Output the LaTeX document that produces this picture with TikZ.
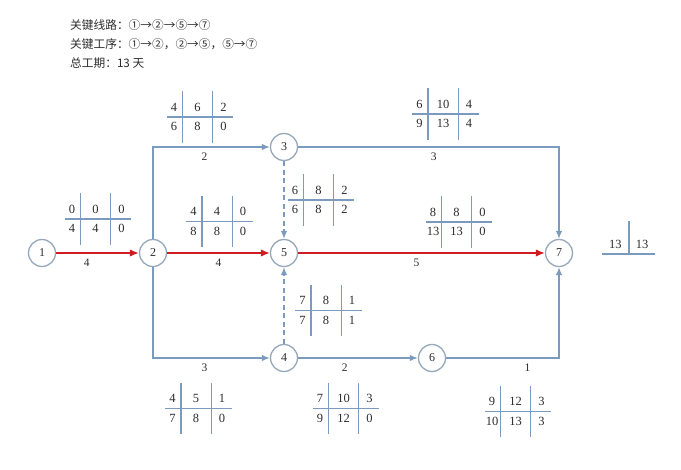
\documentclass[tikz,border=0pt]{standalone}
\usepackage{fontspec}
\setmainfont{Liberation Serif}
\newfontfamily\cjk{Noto Sans CJK SC}
\usepackage{array}
\usepackage{colortbl}
\usetikzlibrary{arrows.meta}
\definecolor{linkblue}{RGB}{122,154,190}
\definecolor{ringgray}{RGB}{150,168,186}
\definecolor{critred}{RGB}{206,28,34}
\definecolor{inkgray}{RGB}{45,45,45}
\arrayrulecolor{linkblue}
\setlength\arrayrulewidth{1.4pt}
\setlength\tabcolsep{4pt}
\newcommand{\wbox}[6]{%
	\begin{tabular}{w{c}{7pt}|w{c}{21pt}|w{c}{12pt}}
		\rule[-5pt]{0pt}{25pt}#1 & #2 & #3\\ \hline
		\rule[-12pt]{0pt}{25pt}#4 & #5 & #6
	\end{tabular}}
\begin{document}
\begin{tikzpicture}[x=1pt, y=-1pt,
		event/.style={circle, draw=ringgray, line width=1.3pt, fill=white, minimum size=27pt, inner sep=0pt, text=inkgray, font=\fontsize{12}{13}\selectfont},
		plain/.style={draw=linkblue, line width=1.4pt, -{Latex[length=8pt,width=6.5pt]}},
		crit/.style={draw=critred, line width=1.6pt, -{Latex[length=9pt,width=7.5pt]}},
		dummy/.style={plain, dash pattern=on 5pt off 3.5pt},
		elab/.style={below=5pt, inner sep=0pt, text=inkgray, font=\fontsize{11.5}{12}\selectfont},
		wtab/.style={inner sep=0pt, text=inkgray, font=\fontsize{12.5}{14}\selectfont},
		head/.style={anchor=base west, inner sep=0pt, text=inkgray, font=\cjk\fontsize{11.7}{14}\selectfont}]
		\useasboundingbox[fill=white] (0,0) rectangle (681,470);
		
		\node[head] (line1) at (70,30) {关键线路：①→②→⑤→⑦};
		\node[head] (line2) at (70,49) {关键工序：①→②，②→⑤，⑤→⑦};
		\node[head] (line3) at (70,68) {总工期：13 天};
		
		\node[event] (n1) at (42,253) {1};
		\node[event] (n2) at (153,253) {2};
		\node[event] (n3) at (284,147) {3};
		\node[event] (n5) at (284,253) {5};
		\node[event] (n4) at (284,358) {4};
		\node[event] (n6) at (432,358) {6};
		\node[event] (n7) at (559,253) {7};
		
		\draw[plain] (n2) |- node[elab, pos=.72] (d23) {2} (n3);
		\draw[plain] (n2) |- node[elab, pos=.72] (d24) {3} (n4);
		\draw[plain] (n3) -| node[elab, pos=.26] (d37) {3} (n7);
		\draw[plain] (n4) -- node[elab, pos=.39] (d46) {2} (n6);
		\draw[plain] (n6) -| node[elab, pos=.36] (d67) {1} (n7);
		\draw[dummy] (n3) -- (n5);
		\draw[dummy] (n4) -- (n5);
		\draw[crit] (n1) -- node[elab, pos=.37] (d12) {4} (n2);
		\draw[crit] (n2) -- node[elab, pos=.5] (d25) {4} (n5);
		\draw[crit] (n5) -- node[elab, pos=.48] (d57) {5} (n7);
		
		\node[wtab] (t12) at (98,219) {\wbox{0}{0}{0}{4}{4}{0}};
		\node[wtab] (t23) at (200,117) {\wbox{4}{6}{2}{6}{8}{0}};
		\node[wtab] (t25) at (219.5,221.5) {\wbox{4}{4}{0}{8}{8}{0}};
		\node[wtab] (t35) at (321,200) {\wbox{6}{8}{2}{6}{8}{2}};
		\node[wtab] (t37) at (445.5,114) {\wbox{6}{10}{4}{9}{13}{4}};
		\node[wtab] (t57) at (459,222) {\wbox{8}{8}{0}{13}{13}{0}};
		\node[wtab] (t45) at (328.5,310.5) {\wbox{7}{8}{1}{7}{8}{1}};
		\node[wtab] (t24) at (198.5,408.5) {\wbox{4}{5}{1}{7}{8}{0}};
		\node[wtab] (t46) at (346,408.5) {\wbox{7}{10}{3}{9}{12}{0}};
		\node[wtab] (t67) at (518,411.5) {\wbox{9}{12}{3}{10}{13}{3}};
		\node[wtab] (tend) at (628.5,238) {\begin{tabular}{w{c}{18pt}|w{c}{17pt}}
				\rule[-5pt]{0pt}{32pt}13 & 13\\ \hline
			\end{tabular}};
	\end{tikzpicture}
\end{document}
